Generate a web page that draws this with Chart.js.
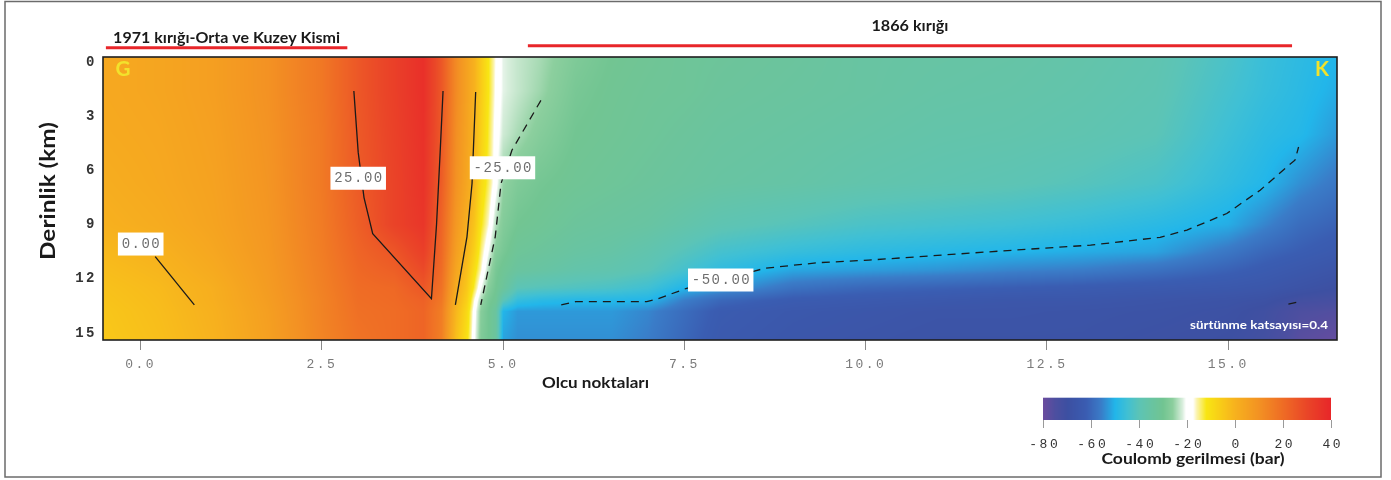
<!DOCTYPE html>
<html>
<head>
<meta charset="utf-8">
<script src="https://cdn.jsdelivr.net/npm/chart.js@4.4.1/dist/chart.umd.min.js"></script>
<style>
  html, body { margin: 0; padding: 0; background: #ffffff; }
  #wrap { position: relative; width: 1391px; height: 480px; }
</style>
</head>
<body>
<div id="wrap"><canvas id="stressChart" width="1391" height="480"></canvas></div>
<script>
// ---- Stress grid: measurement points (x) and depth levels (km) ----
const xNodes = [-0.5, 0.25, 1, 1.75, 2.5, 3, 3.5, 3.9, 4.15, 4.35, 4.5, 4.6, 4.7, 4.8, 4.9, 5.0,
                5.2, 5.5, 6, 6.5, 7, 7.5, 8, 9, 10, 11, 12, 13, 14, 15, 15.5, 16, 16.5];
const depthNodes = [-0.3, 1.6, 4, 6.7, 9, 10.5, 11.5, 12.5, 13.2, 13.8, 15.4];

// Coulomb stress change (bar); one row per depth level, one value per x node
const stressByDepth = [
  [3, 4, 6, 10, 17, 25.5, 32, 37, 25.5, 12, 5, 0.5, -6, -12, -17.5, -21.5, -23, -24.5, -28, -30, -31, -32, -32.5, -33.5, -35, -35.5, -36, -37, -38.5, -43, -46, -48, -50],
  [3, 4, 6, 10, 17, 25.5, 32, 37, 25.5, 12, 5, 0.5, -6, -12, -18, -21.5, -23, -25, -29, -30.5, -31.5, -32, -33, -34, -35, -36, -36.5, -37.5, -39, -44, -46.5, -48.5, -51],
  [2.5, 3.5, 5.5, 9.5, 16.5, 25, 31.5, 36.5, 25, 11, 4.5, 0, -7, -13, -19, -22.5, -24.5, -27, -30, -31, -32, -33, -34, -35, -36, -37, -37.5, -38.5, -40, -45.5, -48, -49.5, -53],
  [1.5, 3, 5, 9, 16.5, 24.5, 31, 36, 24, 10, 3.5, -1, -9, -14, -19.5, -25.5, -28, -29.5, -31, -32, -33, -34, -35, -36, -37.5, -38.5, -39.5, -41, -43, -47.5, -49.8, -54, -57],
  [0.5, 2, 4.5, 8.5, 16, 23.5, 31, 35, 22, 8, 1, -4, -12, -17, -24, -27.5, -30, -31, -33, -34, -35, -37, -39, -41, -43, -44, -45, -46.5, -48.5, -51, -55, -59, -61],
  [-1.5, 0.3, 3.5, 8, 15.5, 22, 26, 32, 21, 6, -1, -7, -15, -21, -27, -29, -32, -33, -35, -36, -38, -41, -44, -46.5, -48, -49, -50, -51, -52, -57, -60, -62, -64],
  [-2.5, -0.8, 2.5, 7.5, 15, 21, 23.5, 29, 20, 4, -3, -10, -17, -24, -29, -31, -34, -35, -37, -38, -40, -44, -47.5, -51.5, -52.5, -53.5, -55, -56, -58, -61, -63, -65, -67],
  [-3.5, -1.8, 1.2, 7, 14.5, 20, 21, 25.5, 18.5, 2, -5, -13, -21, -27, -30, -33, -40, -41, -42, -43, -45, -50, -52.5, -58, -60, -61, -62, -63, -64, -65, -66, -68, -70],
  [-4, -2.2, 1.0, 6.5, 14, 19.5, 20.5, 23, 17, 0.5, -7, -17, -25, -29, -31, -40, -47, -48.5, -49.5, -49.5, -50, -56, -60, -63, -64, -65, -66, -66, -67, -68, -69, -72, -73],
  [-4.5, -2.5, 0.5, 6, 14, 19, 20, 22, 15.5, -1, -9, -19, -27, -30, -34, -50, -53, -53, -53, -53, -55, -59, -63, -65, -66, -67, -67, -67.5, -68, -69, -71, -75, -76],
  [-5, -3, 0, 5.5, 13.5, 18, 20, 22, 15, -3, -11, -20, -28, -30, -34, -52, -54, -54, -54, -54, -56, -60, -64, -66, -67, -68, -68, -68, -69, -70, -72, -77, -79]
];

// ---- Axis and colour bar ticks ----
const xTickValues = [0, 2.5, 5, 7.5, 10, 12.5, 15];
const depthTickValues = [0, 3, 6, 9, 12, 15];
const colorbarTicks = [-80, -60, -40, -20, 0, 20, 40];

// ---- Colour scale (bar -> colour) ----
const scaleStops  = [-80, -75, -70, -62, -56, -50, -45, -40, -35, -30, -26, -22, -20.5, -17.5, -16, -12, -6, 0, 10, 20, 30, 40];
const scaleColors = ['#6b4c9e', '#4d4fa0', '#3d50a2', '#3a5db2', '#3a7cc8', '#22b6ea', '#40c0d4', '#5cc4b6',
                     '#68c4a2', '#72c592', '#8ccf9e', '#d8eedc', '#ffffff', '#ffffff', '#fbf4b0', '#f8e614',
                     '#f9cc18', '#f7b21e', '#f39223', '#ef6c25', '#ea4628', '#e8262a'];

// ---- Contour lines [x, depth] ----
const contourZero = [[0.2, 10.77], [0.74, 13.44]];
const contour25 = [[2.94, 1.6], [3.0, 5.0], [3.08, 7.5], [3.2, 9.5], [4.01, 13.1], [4.08, 9.0], [4.13, 5.0], [4.17, 1.6]];
const contourZeroEast = [[4.62, 1.66], [4.57, 6.72], [4.5, 9.67], [4.34, 13.44]];
const contourMinus25 = [[5.52, 2.12], [5.12, 4.88], [4.97, 6.72], [4.89, 9.67], [4.69, 13.44]];
const contourMinus50 = [[5.8, 13.44], [6.0, 13.26], [6.98, 13.26], [7.13, 13.1], [7.53, 12.52], [8.0, 12.06],
                        [8.61, 11.41], [9.35, 11.1], [10.04, 10.96], [11.85, 10.46], [13.1, 10.13], [14.06, 9.7],
                        [14.43, 9.3], [14.98, 8.38], [15.44, 7.09], [15.81, 5.8], [15.92, 5.43], [15.97, 4.7]];
const contourMinus75 = [[15.83, 13.39], [15.98, 13.26]];

// ---- Contour labels ----
const contourLabelText  = ['0.00', '25.00', '-25.00', '-50.00'];
const contourLabelX     = [0.0, 3.0, 4.99, 8.0];
const contourLabelDepth = [10.07, 6.43, 5.85, 12.06];

// ---- Fault extents along the profile ----
const faultNames = ['1971 kırığı-Orta ve Kuzey Kismi', '1866 kırığı'];
const faultFrom  = [-0.48, 5.34];
const faultTo    = [2.85, 15.88];

// ---------------------------------------------------------------
const SANS = "Lato, 'Open Sans', sans-serif";
const MONO = "'Liberation Mono', 'DejaVu Sans Mono', monospace";

function hexToRgb(h) {
  return [parseInt(h.slice(1, 3), 16), parseInt(h.slice(3, 5), 16), parseInt(h.slice(5, 7), 16)];
}
const stopRgb = scaleColors.map(hexToRgb);

function colourFor(v) {
  if (v <= scaleStops[0]) return stopRgb[0];
  const n = scaleStops.length;
  if (v >= scaleStops[n - 1]) return stopRgb[n - 1];
  for (let i = 0; i < n - 1; i++) {
    if (v <= scaleStops[i + 1]) {
      const t = (v - scaleStops[i]) / (scaleStops[i + 1] - scaleStops[i]);
      const a = stopRgb[i], b = stopRgb[i + 1];
      return [a[0] + (b[0] - a[0]) * t, a[1] + (b[1] - a[1]) * t, a[2] + (b[2] - a[2]) * t];
    }
  }
  return stopRgb[n - 1];
}

function locate(nodes, v) {
  const n = nodes.length;
  if (v <= nodes[0]) return [0, 0];
  if (v >= nodes[n - 1]) return [n - 2, 1];
  for (let k = 0; k < n - 1; k++) {
    if (v <= nodes[k + 1]) return [k, (v - nodes[k]) / (nodes[k + 1] - nodes[k])];
  }
  return [n - 2, 1];
}

function stressAt(ix, tx, jy, ty) {
  const r0 = stressByDepth[jy], r1 = stressByDepth[jy + 1];
  const a = r0[ix] + (r0[ix + 1] - r0[ix]) * tx;
  const b = r1[ix] + (r1[ix + 1] - r1[ix]) * tx;
  return a + (b - a) * ty;
}

function drawFitted(ctx, text, cx, cy, size, width, color, rotate) {
  ctx.save();
  ctx.letterSpacing = '0px';
  ctx.font = `bold ${size}px ${SANS}`;
  const w = ctx.measureText(text).width;
  ctx.translate(cx, cy);
  if (rotate) ctx.rotate(rotate);
  ctx.scale(width / w, 1);
  ctx.fillStyle = color;
  ctx.textAlign = 'center';
  ctx.textBaseline = 'middle';
  ctx.fillText(text, 0, 0);
  ctx.restore();
}

// Stress field painted under the contour lines
const stressField = {
  id: 'stressField',
  beforeDraw(chart) {
    chart.ctx.letterSpacing = '2.5px';
  },
  beforeDatasetsDraw(chart) {
    const { ctx, chartArea: a, scales } = chart;
    const w = Math.round(a.right - a.left), h = Math.round(a.bottom - a.top);
    const off = document.createElement('canvas');
    off.width = w; off.height = h;
    const octx = off.getContext('2d');
    const img = octx.createImageData(w, h);
    const cols = [], rows = [];
    for (let i = 0; i < w; i++) cols.push(locate(xNodes, scales.x.getValueForPixel(a.left + i + 0.5)));
    for (let j = 0; j < h; j++) rows.push(locate(depthNodes, scales.y.getValueForPixel(a.top + j + 0.5)));
    for (let j = 0; j < h; j++) {
      const [jy, ty] = rows[j];
      for (let i = 0; i < w; i++) {
        const [ix, tx] = cols[i];
        const c = colourFor(stressAt(ix, tx, jy, ty));
        const p = (j * w + i) * 4;
        img.data[p] = c[0]; img.data[p + 1] = c[1]; img.data[p + 2] = c[2]; img.data[p + 3] = 255;
      }
    }
    octx.putImageData(img, 0, 0);
    ctx.drawImage(off, a.left, a.top);
  },
  afterDatasetsDraw(chart) {
    const { ctx, chartArea: a, scales } = chart;
    ctx.save();
    // contour value labels
    ctx.font = `14px ${MONO}`;
    ctx.letterSpacing = '1.5px';
    ctx.textAlign = 'center';
    ctx.textBaseline = 'middle';
    contourLabelText.forEach((t, i) => {
      const px = scales.x.getPixelForValue(contourLabelX[i]);
      const py = scales.y.getPixelForValue(contourLabelDepth[i]);
      const tw = ctx.measureText(t).width;
      ctx.fillStyle = '#ffffff';
      ctx.fillRect(px - tw / 2 - 3, py - 11.5, tw + 6, 23);
      ctx.fillStyle = '#6e6e6e';
      ctx.fillText(t, px + 0.75, py + 0.5);
    });
    // plot frame
    ctx.strokeStyle = '#1e1e1e';
    ctx.lineWidth = 1.6;
    ctx.strokeRect(a.left, a.top, a.right - a.left, a.bottom - a.top);
    ctx.restore();
    // end markers and friction note
    drawFitted(ctx, 'G', a.left + 20, a.top + 13, 20, 15, '#f2e22c');
    drawFitted(ctx, 'K', a.right - 15, a.top + 13, 20, 14, '#f2e22c');
    drawFitted(ctx, 'sürtünme katsayısı=0.4', a.right - 78, a.bottom - 14.5, 11, 138, '#ffffff');
  },
  afterDraw(chart) {
    const { ctx, chartArea: a, scales } = chart;
    ctx.save();
    // fault extents with their names
    const faultLineY = [47.7, 45.7];
    const faultTextY = [38.3, 26.7];
    const faultTextW = [227, 77];
    faultNames.forEach((name, i) => {
      const x0 = scales.x.getPixelForValue(faultFrom[i]);
      const x1 = scales.x.getPixelForValue(faultTo[i]);
      ctx.strokeStyle = '#e8262a';
      ctx.lineWidth = 3;
      ctx.beginPath();
      ctx.moveTo(x0, faultLineY[i]);
      ctx.lineTo(x1, faultLineY[i]);
      ctx.stroke();
      drawFitted(ctx, name, (x0 + x1) / 2, faultTextY[i], 14.5, faultTextW[i], '#1a1a1a');
    });
    // axis titles
    drawFitted(ctx, 'Derinlik (km)', 48.3, 191, 21, 138, '#1a1a1a', -Math.PI / 2);
    drawFitted(ctx, 'Olcu noktaları', 595.5, 383, 14.5, 107, '#1a1a1a');

    // colour bar
    const cb = { left: 1043.3, right: 1331, top: 397.7, bottom: 420 };
    const vMin = colorbarTicks[0], vMax = colorbarTicks[colorbarTicks.length - 1];
    const toPx = v => cb.left + (v - vMin) / (vMax - vMin) * (cb.right - cb.left);
    for (let px = Math.floor(cb.left); px < Math.ceil(cb.right); px++) {
      const v = vMin + (px + 0.5 - cb.left) / (cb.right - cb.left) * (vMax - vMin);
      const c = colourFor(v);
      ctx.fillStyle = `rgb(${c[0] | 0},${c[1] | 0},${c[2] | 0})`;
      ctx.fillRect(px, cb.top, 1, cb.bottom - cb.top);
    }
    ctx.strokeStyle = '#9a9a9a';
    ctx.lineWidth = 1;
    ctx.font = `13px ${MONO}`;
    ctx.letterSpacing = '2.5px';
    ctx.fillStyle = '#333333';
    ctx.textAlign = 'center';
    ctx.textBaseline = 'middle';
    colorbarTicks.forEach(v => {
      const px = Math.round(toPx(v)) + 0.5;
      ctx.beginPath();
      ctx.moveTo(px, cb.bottom);
      ctx.lineTo(px, cb.bottom + 8);
      ctx.stroke();
      ctx.fillText(String(v), px + 1.25, 445);
    });
    drawFitted(ctx, 'Coulomb gerilmesi (bar)', 1193, 459, 15.5, 183, '#1a1a1a');

    // outer frame
    ctx.strokeStyle = '#6b6b6b';
    ctx.lineWidth = 1.5;
    ctx.strokeRect(5, 1.5, 1376, 475.5);
    ctx.restore();
  }
};

function contourSet(points, dashed) {
  return {
    data: points.map(([x, d]) => ({ x: x, y: d })),
    showLine: true,
    borderColor: '#1a1a1a',
    borderWidth: 1.3,
    borderDash: dashed ? [8, 6] : [],
    pointRadius: 0,
    pointHoverRadius: 0,
    fill: false,
    tension: 0
  };
}

new Chart(document.getElementById('stressChart'), {
  type: 'scatter',
  data: {
    datasets: [
      contourSet(contourZero, false),
      contourSet(contour25, false),
      contourSet(contourZeroEast, false),
      contourSet(contourMinus25, true),
      contourSet(contourMinus50, true),
      contourSet(contourMinus75, true)
    ]
  },
  options: {
    responsive: false,
    devicePixelRatio: 1,
    animation: false,
    layout: { padding: { left: 0, right: 54, top: 57, bottom: 0 } },
    plugins: { legend: { display: false }, tooltip: { enabled: false } },
    scales: {
      x: {
        type: 'linear',
        position: 'bottom',
        min: -0.52,
        max: 16.5,
        afterBuildTicks: s => { s.ticks = xTickValues.map(v => ({ value: v })); },
        afterFit: s => { s.height = 140; },
        border: { display: false },
        grid: { display: true, drawOnChartArea: false, drawTicks: true, tickLength: 10, color: '#8a8a8a', lineWidth: 1 },
        ticks: {
          autoSkip: false,
          maxRotation: 0,
          padding: 7,
          color: '#7a7a7a',
          font: { family: MONO, size: 13 },
          callback: v => Number(v).toFixed(1)
        }
      },
      y: {
        type: 'linear',
        reverse: true,
        min: -0.28,
        max: 15.38,
        afterBuildTicks: s => { s.ticks = depthTickValues.map(v => ({ value: v })); },
        afterFit: s => { s.width = 103; },
        border: { display: false },
        grid: { display: false, drawTicks: false },
        ticks: {
          padding: 6,
          color: '#333333',
          font: { family: MONO, size: 14, weight: 'bold' },
          callback: v => String(v)
        }
      }
    }
  },
  plugins: [stressField]
});
</script>
</body>
</html>
